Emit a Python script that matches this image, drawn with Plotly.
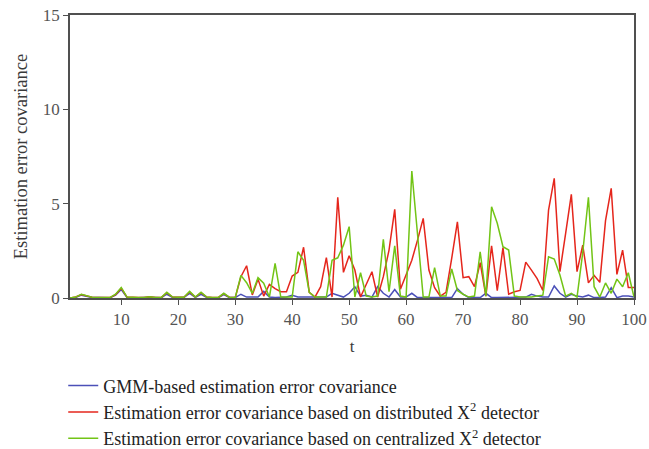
import plotly.graph_objects as go

# Time steps
t = list(range(1, 101))

# GMM-based estimation error covariance
gmm = [
    0.0, 0.03, 0.15, 0.08, 0.02, 0.02, 0.01, 0.01, 0.15, 0.45,
    0.03, 0.01, 0.01, 0.02, 0.04, 0.02, 0.01, 0.2, 0.03, 0.03,
    0.03, 0.25, 0.03, 0.2, 0.03, 0.01, 0.01, 0.18, 0.02, 0.02,
    0.2, 0.05, 0.05, 0.05, 0.35, 0.05, 0.02, 0.02, 0.05, 0.15,
    0.05, 0.05, 0.05, 0.05, 0.05, 0.05, 0.25, 0.15, 0.05, 0.25,
    0.6, 0.1, 0.15, 0.05, 0.6, 0.25, 0.05, 0.45, 0.05, 0.05,
    0.25, 0.02, 0.02, 0.02, 0.02, 0.02, 0.02, 0.02, 0.5, 0.2,
    0.02, 0.02, 0.02, 0.25, 0.02, 0.02, 0.02, 0.02, 0.02, 0.05,
    0.05, 0.2, 0.1, 0.05, 0.05, 0.64, 0.25, 0.05, 0.2, 0.1,
    0.05, 0.15, 0.02, 0.02, 0.05, 0.55, 0.02, 0.1, 0.1, 0.05,
]

# Distributed chi-square detector
distributed = [
    0.0, 0.05, 0.18, 0.1, 0.03, 0.03, 0.02, 0.02, 0.18, 0.52,
    0.05, 0.02, 0.02, 0.03, 0.06, 0.03, 0.02, 0.28, 0.05, 0.04,
    0.04, 0.32, 0.05, 0.28, 0.05, 0.02, 0.02, 0.23, 0.03, 0.02,
    1.13, 1.71, 0.16, 1.0, 0.1, 0.72, 0.5, 0.33, 0.33, 1.16,
    1.36, 2.69, 0.3, 0.05, 0.6, 2.14, 0.05, 5.34, 1.36, 2.24,
    1.48, 0.05, 0.7, 1.39, 0.05, 1.13, 2.54, 4.7, 0.46, 1.2,
    2.0, 3.07, 4.22, 1.48, 0.55, 0.1, 0.3, 2.1, 4.04, 1.08,
    1.13, 0.6, 1.87, 0.1, 2.77, 0.39, 2.67, 0.2, 0.33, 0.4,
    1.9, 1.48, 1.03, 0.4, 4.66, 6.34, 1.4, 3.43, 5.49, 1.4,
    2.8, 0.8, 1.2, 0.83, 4.1, 5.81, 1.25, 2.54, 0.55, 0.55,
]

# Centralized chi-square detector
centralized = [
    0.0, 0.05, 0.2, 0.1, 0.03, 0.03, 0.02, 0.02, 0.2, 0.55,
    0.05, 0.02, 0.02, 0.03, 0.06, 0.03, 0.02, 0.3, 0.05, 0.04,
    0.04, 0.35, 0.05, 0.3, 0.05, 0.02, 0.02, 0.25, 0.03, 0.02,
    1.2, 0.81, 0.25, 1.08, 0.78, 0.05, 1.84, 0.05, 0.05, 0.05,
    2.45, 2.0, 0.3, 0.05, 0.05, 0.05, 2.0, 2.13, 2.8, 3.78,
    0.05, 1.34, 0.1, 0.05, 0.1, 3.11, 0.33, 2.77, 0.1, 0.05,
    6.73, 3.3, 0.05, 0.05, 1.61, 0.1, 0.1, 1.54, 0.4, 0.2,
    0.05, 0.1, 2.45, 0.1, 4.84, 3.96, 2.72, 2.54, 0.1, 0.05,
    0.05, 0.05, 0.1, 0.15, 2.19, 2.07, 1.22, 0.1, 0.25, 0.05,
    2.4, 5.34, 0.6, 0.05, 0.8, 0.25, 1.0, 0.6, 1.34, 0.05,
]

series_names = [
    "GMM-based estimation error covariance",
    "Estimation error covariance based on distributed X<sup>2</sup> detector",
    "Estimation error covariance based on centralized X<sup>2</sup> detector",
]
series_colors = ["#4b50b8", "#e5261c", "#72c416"]

x_ticks = [10, 20, 30, 40, 50, 60, 70, 80, 90, 100]
y_ticks = [0, 5, 10, 15]

FONT = "Liberation Serif"
TEXT_COLOR = "#3a3a3a"
AXIS_COLOR = "#505050"

fig = go.Figure()
for name, ys, color in zip(series_names, [gmm, distributed, centralized], series_colors):
    fig.add_trace(go.Scatter(
        x=t, y=ys, mode="lines", name=name,
        line=dict(color=color, width=1.5),
        legendgroup=name,
    ))

fig.update_layout(
    width=649, height=449,
    margin=dict(l=70, r=15, t=15, b=151, autoexpand=False),
    paper_bgcolor="white", plot_bgcolor="white",
    font=dict(family=FONT, size=16, color=TEXT_COLOR),
    showlegend=True,
    legend=dict(
        x=-0.012, y=-0.245, xanchor="left", yanchor="top",
        orientation="v", tracegroupgap=0,
        font=dict(family=FONT, size=18, color="#222222"),
        bgcolor="rgba(0,0,0,0)",
    ),
)

fig.update_xaxes(
    range=[1, 100], tickvals=x_ticks, ticktext=[str(v) for v in x_ticks],
    ticks="outside", ticklen=5, tickwidth=1, tickcolor=AXIS_COLOR,
    showline=True, linecolor=AXIS_COLOR, linewidth=1.5, mirror=True,
    showgrid=False, zeroline=False,
    title=dict(text="t", font=dict(family=FONT, size=17, color=TEXT_COLOR), standoff=12),
    tickfont=dict(family=FONT, size=17, color="#555555"),
)
fig.update_yaxes(
    range=[0, 15], tickvals=y_ticks,
    ticks="outside", ticklen=5, tickwidth=1, tickcolor=AXIS_COLOR,
    showline=True, linecolor=AXIS_COLOR, linewidth=1.5, mirror=True,
    showgrid=False, zeroline=False,
    title=dict(text="Estimation error covariance", font=dict(family=FONT, size=18.5, color=TEXT_COLOR), standoff=10),
    tickfont=dict(family=FONT, size=17, color="#555555"),
)

fig.write_html("out.html")
